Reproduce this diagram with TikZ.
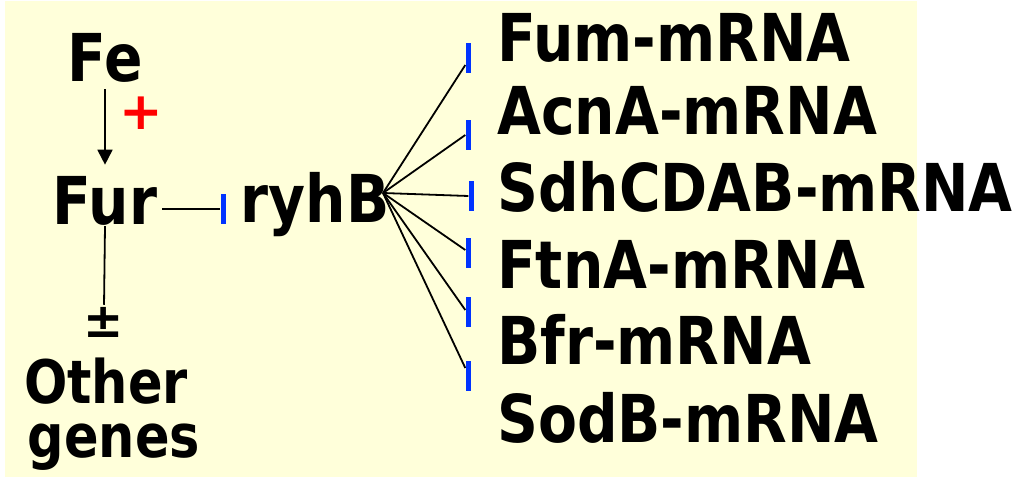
\documentclass[tikz,border=0pt]{standalone}
\usepackage{fontspec}
\usepackage{graphicx}
\setmainfont{DejaVu Sans}
\usetikzlibrary{arrows.meta,calc}
\definecolor{bgyel}{RGB}{255,255,218}
\definecolor{barblue}{RGB}{0,51,255}
\newcommand\narrowtxt[1]{\scalebox{0.86}[1]{#1}}
\newcommand\narrowsmall[1]{\scalebox{0.85}[1]{#1}}
\begin{document}
\begin{tikzpicture}[x=1pt,y=-1pt,
  lbl/.style={font=\fontsize{66}{66}\selectfont\bfseries, inner sep=0pt, text=black},
  lblsmall/.style={font=\fontsize{60}{60}\selectfont\bfseries, inner sep=0pt, text=black},
  inhbar/.style={fill=barblue, draw=none, minimum width=5pt, minimum height=30pt, inner sep=0pt},
  conn/.style={line width=1.8pt, black}]
\fill[white] (0,0) rectangle (1022,478);
\fill[bgyel] (5,1) rectangle (917,477);
\useasboundingbox (0,0) rectangle (1022,478);

% left side
\node[lbl, anchor=base] (fe) at (105,82) {\narrowtxt{Fe}};
\node[lbl, anchor=base] (fur) at (105,225) {\narrowtxt{Fur}};
\node[lbl, anchor=base] (ryhb) at (315,223) {\narrowtxt{ryhB}};
\node[font=\fontsize{52}{52}\selectfont\bfseries, text=red, inner sep=0pt] (plus) at (141,113) {+};
\node[font=\fontsize{48}{48}\selectfont\bfseries, inner sep=0pt] (pm) at (104,322) {±};
\node[lblsmall, anchor=base] (other) at (106,403) {\narrowsmall{Other}};
\node[lblsmall, anchor=base] (genes) at (114,457) {\narrowsmall{genes}};

\draw[conn, -{Triangle[length=15pt,width=15pt]}, shorten <=6pt, shorten >=12pt] (fe.south) -- (fur.north);
\node[inhbar] (b0) at (223,209) {};
\draw[conn, shorten <=5pt] (fur.east |- b0.west) -- (b0.west);
\draw[conn, shorten >=2pt] (fur.south) -- (pm.north);

% right side labels
\node[lbl, anchor=base west] (m1) at (497,62) {\narrowtxt{Fum-mRNA}};
\node[lbl, anchor=base west] (m2) at (497,135) {\narrowtxt{AcnA-mRNA}};
\node[lbl, anchor=base west] (m3) at (497,212) {\narrowtxt{SdhCDAB-mRNA}};
\node[lbl, anchor=base west] (m4) at (497,288) {\narrowtxt{FtnA-mRNA}};
\node[lbl, anchor=base west] (m5) at (497,364) {\narrowtxt{Bfr-mRNA}};
\node[lbl, anchor=base west] (m6) at (497,442) {\narrowtxt{SodB-mRNA}};

% inhibition bars
\node[inhbar] (b1) at (468,58) {};
\node[inhbar] (b2) at (468,135) {};
\node[inhbar] (b3) at (471,196) {};
\node[inhbar] (b4) at (468,253) {};
\node[inhbar] (b5) at (468,312) {};
\node[inhbar] (b6) at (468,376) {};

\coordinate (hub) at (383,193);
\draw[conn] (hub) -- ($(b1.west)+(0,7)$);
\draw[conn] (hub) -- (b2.west);
\draw[conn] (hub) -- (b3.west);
\draw[conn] (hub) -- ($(b4.west)+(0,-3)$);
\draw[conn] (hub) -- ($(b5.west)+(0,-2)$);
\draw[conn] (hub) -- ($(b6.west)+(0,-8)$);
\end{tikzpicture}
\end{document}
